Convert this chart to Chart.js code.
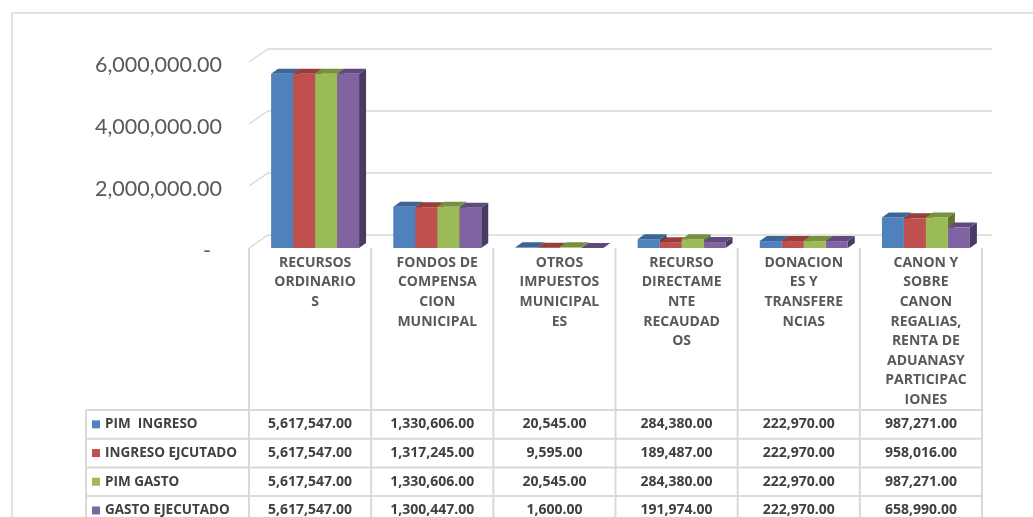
<!DOCTYPE html>
<html>
<head>
<meta charset="utf-8">
<script src="https://cdn.jsdelivr.net/npm/chart.js@4.4.1/dist/chart.umd.min.js"></script>
<style>
    html, body { margin: 0; padding: 0; background: #ffffff; }
    canvas { display: block; }
</style>
</head>
<body>
<canvas id="presupuestoChart" width="1033" height="517"></canvas>
<script>
// categorías (encabezados del cuadro, ya partidos como en el original)
const categorias = [
    ['RECURSOS', 'ORDINARIO', 'S'],
    ['FONDOS DE', 'COMPENSA', 'CION', 'MUNICIPAL'],
    ['OTROS', 'IMPUESTOS', 'MUNICIPAL', 'ES'],
    ['RECURSO', 'DIRECTAME', 'NTE', 'RECAUDAD', 'OS'],
    ['DONACION', 'ES Y', 'TRANSFERE', 'NCIAS'],
    ['CANON Y', 'SOBRE', 'CANON', 'REGALIAS,', 'RENTA DE', 'ADUANASY', 'PARTICIPAC', 'IONES']
];

const series = ['PIM  INGRESO', 'INGRESO EJCUTADO', 'PIM GASTO', 'GASTO EJECUTADO'];
const pimIngreso = [5617547, 1330606, 20545, 284380, 222970, 987271];
const ingresoEjecutado = [5617547, 1317245, 9595, 189487, 222970, 958016];
const pimGasto = [5617547, 1330606, 20545, 284380, 222970, 987271];
const gastoEjecutado = [5617547, 1300447, 1600, 191974, 222970, 658990];

const ejeY = [0, 2000000, 4000000, 6000000];

const colores = ['#4F81BD', '#C0504D', '#9BBB59', '#8064A2'];
const coloresTapa = ['#3C6494', '#973E3B', '#78913F', '#5F4A7B'];
const coloresLado = ['#2F4F76', '#7A302E', '#5F7432', '#4B3A62'];

const fmt = v => v.toLocaleString('en-US', { minimumFractionDigits: 2, maximumFractionDigits: 2 });

// profundidad de las barras y del fondo
const barDx = 7, barDy = 5;
const wallDx = 19, wallDy = 13;
const shift = -5;   // el cuadro está un poco a la izquierda de las barras
const gridColor = '#D9D9D9';
const fuenteTabla = '"Open Sans", "Noto Sans", sans-serif';

// efecto 3D + cuadro de datos
const efecto3D = {
    id: 'efecto3D',
    beforeDraw(chart) {
        const { ctx, chartArea: a, scales: { y } } = chart;
        ctx.save();
        // marco del gráfico
        ctx.strokeStyle = gridColor;
        ctx.lineWidth = 1.5;
        ctx.beginPath();
        ctx.moveTo(12, 517);
        ctx.lineTo(12, 13);
        ctx.lineTo(1033, 13);
        ctx.stroke();
        // paredes (fondo y piso)
        ejeY.forEach(v => {
            const py = y.getPixelForValue(v);
            const x0 = a.left + shift;
            ctx.beginPath();
            ctx.moveTo(x0, py);
            ctx.lineTo(x0 + wallDx, py - wallDy);
            ctx.lineTo(a.right + 5, py - wallDy);
            ctx.stroke();
        });
        ctx.restore();
    },
    beforeDatasetsDraw(chart) {
        const { ctx } = chart;
        ctx.save();
        const bars = [];
        chart.data.datasets.forEach((ds, i) => {
            chart.getDatasetMeta(i).data.forEach(el => bars.push({ el, i }));
        });
        // caras laterales
        bars.forEach(({ el, i }) => {
            const r = el.x + el.width / 2;
            ctx.fillStyle = coloresLado[i];
            ctx.beginPath();
            ctx.moveTo(r, el.y);
            ctx.lineTo(r + barDx, el.y - barDy);
            ctx.lineTo(r + barDx, el.base - barDy);
            ctx.lineTo(r, el.base);
            ctx.closePath();
            ctx.fill();
        });
        // tapas
        bars.forEach(({ el, i }) => {
            const l = el.x - el.width / 2, r = el.x + el.width / 2;
            ctx.fillStyle = coloresTapa[i];
            ctx.beginPath();
            ctx.moveTo(l, el.y);
            ctx.lineTo(l + barDx, el.y - barDy);
            ctx.lineTo(r + barDx, el.y - barDy);
            ctx.lineTo(r, el.y);
            ctx.closePath();
            ctx.fill();
        });
        ctx.restore();
    },
    afterDraw(chart) {
        const { ctx, chartArea: a, scales: { x } } = chart;
        const n = categorias.length;
        const colW = (a.right - a.left) / n;
        const filas = chart.data.datasets.map(ds => ds.data);
        const rowTop = x.bottom + 1, rowH = 28.7;
        const leftCol = 86;
        ctx.save();
        ctx.strokeStyle = gridColor;
        ctx.lineWidth = 2;
        // separadores verticales
        for (let k = 0; k <= n; k++) {
            const px = a.left + shift + k * colW;
            ctx.beginPath();
            ctx.moveTo(px, a.bottom);
            ctx.lineTo(px, 517);
            ctx.stroke();
        }
        ctx.beginPath();
        ctx.moveTo(leftCol, rowTop);
        ctx.lineTo(leftCol, 517);
        ctx.stroke();
        // líneas horizontales
        for (let r = 0; r <= filas.length; r++) {
            const py = rowTop + r * rowH;
            ctx.beginPath();
            ctx.moveTo(leftCol, py);
            ctx.lineTo(a.right + shift, py);
            ctx.stroke();
        }
        // textos
        ctx.textBaseline = 'middle';
        filas.forEach((vals, r) => {
            const cy = rowTop + r * rowH + rowH / 2;
            ctx.fillStyle = colores[r];
            ctx.fillRect(92, cy - 4, 8, 8);
            ctx.fillStyle = '#404040';
            ctx.textAlign = 'left';
            ctx.font = 'bold 13.5px ' + fuenteTabla;
            ctx.fillText(series[r], 105, cy);
            ctx.textAlign = 'center';
            ctx.font = 'bold 14px ' + fuenteTabla;
            vals.forEach((v, c) => {
                ctx.fillText(fmt(v), x.getPixelForValue(c) + shift, cy);
            });
        });
        ctx.restore();
    }
};

const ctx = document.getElementById('presupuestoChart').getContext('2d');
new Chart(ctx, {
    type: 'bar',
    data: {
        labels: categorias,
        datasets: [pimIngreso, ingresoEjecutado, pimGasto, gastoEjecutado].map((d, i) => ({
            label: series[i],
            data: d,
            backgroundColor: colores[i],
            borderWidth: 0,
            categoryPercentage: 0.72,
            barPercentage: 1.0
        }))
    },
    options: {
        responsive: false,
        animation: false,
        layout: { padding: { left: 0, top: 62, right: 46, bottom: 108 } },
        plugins: {
            legend: { display: false },
            tooltip: { enabled: false }
        },
        scales: {
            x: {
                grid: { display: false, drawTicks: false },
                border: { display: false },
                ticks: {
                    autoSkip: false,
                    maxRotation: 0,
                    minRotation: 0,
                    padding: 5,
                    color: '#595959',
                    font: { family: fuenteTabla, size: 14, weight: 'bold', lineHeight: 1.4 }
                },
                afterFit(scale) { scale.height = 161; }
            },
            y: {
                min: 0,
                max: 6000000,
                grid: { display: false, drawTicks: false },
                border: { display: false },
                ticks: {
                    stepSize: 2000000,
                    padding: 32,
                    labelOffset: 3,
                    color: '#595959',
                    font: { family: 'Lato, "Open Sans", sans-serif', size: 21.5 },
                    callback: v => v === 0 ? '-  ' : fmt(v)
                },
                afterFit(scale) { scale.width = 254; }
            }
        }
    },
    plugins: [efecto3D]
});
</script>
</body>
</html>
